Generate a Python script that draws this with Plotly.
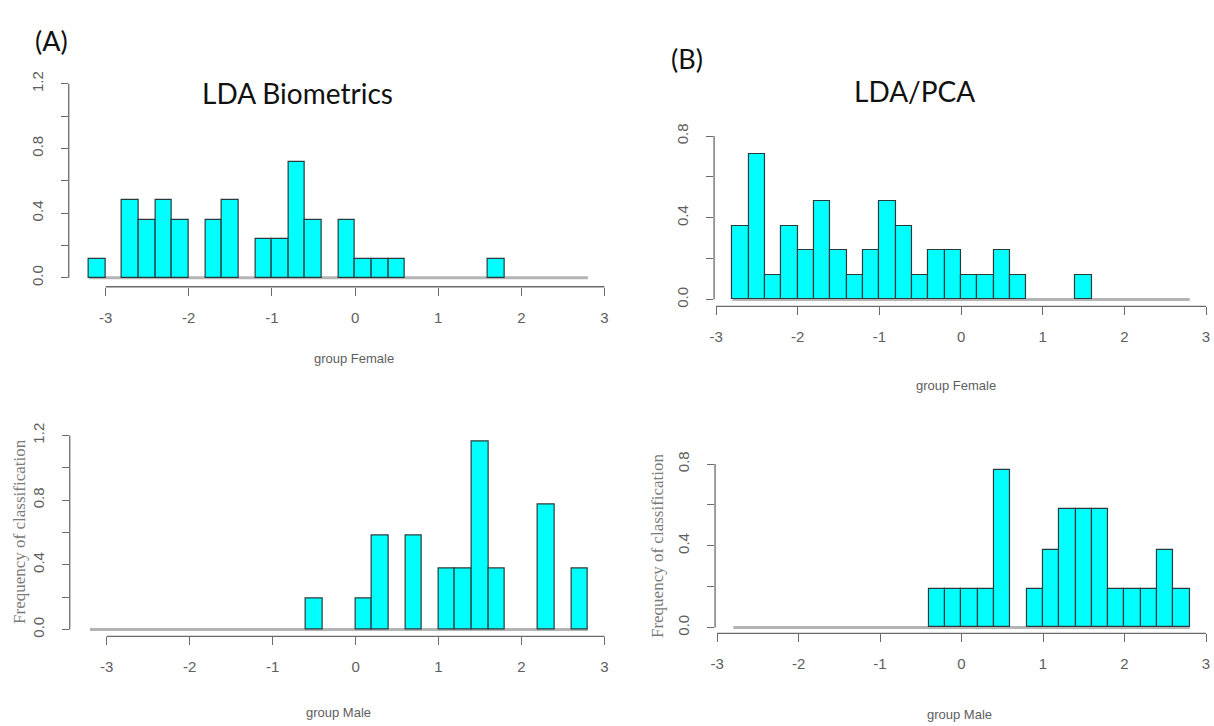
import plotly.graph_objects as go

W, H = 1214, 726

# ---------------- data (bin left edges, bin width 0.2, densities) ----------------
bin_width = 0.2

a_female_left = [-3.2, -2.8, -2.6, -2.4, -2.2, -1.8, -1.6, -1.2, -1.0, -0.8, -0.6, -0.2, 0.0, 0.2, 0.4, 1.6]
a_female_dens = [0.12, 0.48, 0.36, 0.48, 0.36, 0.36, 0.48, 0.24, 0.24, 0.72, 0.36, 0.36, 0.12, 0.12, 0.12, 0.12]

a_male_left = [-0.6, 0.0, 0.2, 0.6, 1.0, 1.2, 1.4, 1.6, 2.2, 2.6]
a_male_dens = [0.19, 0.19, 0.58, 0.58, 0.38, 0.38, 1.16, 0.38, 0.77, 0.38]

b_female_left = [-2.8, -2.6, -2.4, -2.2, -2.0, -1.8, -1.6, -1.4, -1.2, -1.0, -0.8, -0.6, -0.4, -0.2, 0.0, 0.2, 0.4, 0.6, 1.4]
b_female_dens = [0.36, 0.71, 0.12, 0.36, 0.24, 0.48, 0.24, 0.12, 0.24, 0.48, 0.36, 0.12, 0.24, 0.24, 0.12, 0.12, 0.24, 0.12, 0.12]

b_male_left = [-0.4, -0.2, 0.0, 0.2, 0.4, 0.8, 1.0, 1.2, 1.4, 1.6, 1.8, 2.0, 2.2, 2.4, 2.6]
b_male_dens = [0.19, 0.19, 0.19, 0.19, 0.77, 0.19, 0.38, 0.58, 0.58, 0.58, 0.19, 0.19, 0.19, 0.38, 0.19]

a_breaks = [-3.2, 2.8]
b_breaks = [-2.8, 2.8]

x_ticks = [-3, -2, -1, 0, 1, 2, 3]
a_y_ticks = [0.0, 0.2, 0.4, 0.6, 0.8, 1.0, 1.2]
a_y_labels = ["0.0", "", "0.4", "", "0.8", "", "1.2"]
b_y_ticks = [0.0, 0.2, 0.4, 0.6, 0.8]
b_y_labels = ["0.0", "", "0.4", "", "0.8"]

# ---------------- layout geometry (pixels) ----------------
panels = [
    dict(left=a_female_left, dens=a_female_dens, breaks=a_breaks, yt=a_y_ticks, yl=a_y_labels,
         xlab="group Female", xm3=101, xp3=602, y0=273, ytp=76, xline=282, yline=64, ylab=False,
         xlab_pos=(350, 355)),
    dict(left=a_male_left, dens=a_male_dens, breaks=a_breaks, yt=a_y_ticks, yl=a_y_labels,
         xlab="group Male", xm3=102, xp3=602, y0=630, ytp=433, xline=637, yline=65, ylab=True,
         xlab_pos=(335, 714), ylab_pos=(15, 530)),
    dict(left=b_female_left, dens=b_female_dens, breaks=b_breaks, yt=b_y_ticks, yl=b_y_labels,
         xlab="group Female", xm3=714, xp3=1206, y0=295, ytp=129, xline=302, yline=712, ylab=False,
         xlab_pos=(955, 382)),
    dict(left=b_male_left, dens=b_male_dens, breaks=b_breaks, yt=b_y_ticks, yl=b_y_labels,
         xlab="group Male", xm3=715, xp3=1206, y0=628, ytp=462, xline=634, yline=713, ylab=True,
         xlab_pos=(958, 716), ylab_pos=(655, 545)),
]

AXIS_COLOR = "#6a6a6a"
TEXT_COLOR = "#5e5e5e"
TICK_FONT = dict(family="Liberation Sans, Arial, sans-serif", size=15, color=TEXT_COLOR)

fig = go.Figure()
layout = dict(width=W, height=H, margin=dict(l=0, r=0, t=0, b=0),
              paper_bgcolor="white", plot_bgcolor="white", showlegend=False)
shapes = []
annotations = []

for i, p in enumerate(panels, start=1):
    xa = "x" if i == 1 else f"x{i}"
    ya = "y" if i == 1 else f"y{i}"
    xkey = "xaxis" if i == 1 else f"xaxis{i}"
    ykey = "yaxis" if i == 1 else f"yaxis{i}"

    kx = (p["xp3"] - p["xm3"]) / 6.0
    ytop = p["yt"][-1]
    ky = (p["y0"] - p["ytp"]) / ytop

    right_px = p["xp3"] + 6
    x_lo = -3 + (p["yline"] - p["xm3"]) / kx
    x_hi = 3 + (right_px - p["xp3"]) / kx
    y_lo = -(p["xline"] - p["y0"]) / ky
    top_px = p["ytp"] - 4
    y_hi = ytop + (p["ytp"] - top_px) / ky

    centers = [l + bin_width / 2 for l in p["left"]]
    fig.add_trace(go.Bar(
        x=centers, y=p["dens"], width=bin_width, xaxis=xa, yaxis=ya,
        marker=dict(color="#00ffff", line=dict(color="#2a3a3a", width=1.2)),
        hoverinfo="x+y",
    ))

    layout[xkey] = dict(
        domain=[p["yline"] / W, right_px / W], range=[x_lo, x_hi], anchor=ya,
        showgrid=False, zeroline=False, showline=False,
        ticks="outside", ticklen=8, tickwidth=1.2, tickcolor=AXIS_COLOR,
        tickvals=x_ticks, ticktext=[str(v) for v in x_ticks],
        tickfont=TICK_FONT, ticklabelstandoff=9, fixedrange=True,
    )
    layout[ykey] = dict(
        domain=[1 - p["xline"] / H, 1 - top_px / H], range=[y_lo, y_hi], anchor=xa,
        showgrid=False, zeroline=False, showline=False,
        ticks="outside", ticklen=7, tickwidth=1.2, tickcolor=AXIS_COLOR,
        tickvals=p["yt"], ticktext=p["yl"], tickangle=-90,
        tickfont=TICK_FONT, ticklabelstandoff=12, fixedrange=True,
    )

    # R-style axis lines spanning only the tick range
    shapes.append(dict(type="line", xref=xa, yref=f"{ya} domain",
                       x0=x_ticks[0], x1=x_ticks[-1], y0=0, y1=0,
                       line=dict(color=AXIS_COLOR, width=1.3)))
    shapes.append(dict(type="line", xref=f"{xa} domain", yref=ya,
                       x0=0, x1=0, y0=p["yt"][0], y1=p["yt"][-1],
                       line=dict(color=AXIS_COLOR, width=1.3)))
    # grey baseline across the break range
    shapes.append(dict(type="line", xref=xa, yref=ya, layer="below",
                       x0=p["breaks"][0], x1=p["breaks"][1], y0=0, y1=0,
                       line=dict(color="#b4b4b4", width=3)))

    annotations.append(dict(text=p["xlab"], xref="paper", yref="paper",
                            x=p["xlab_pos"][0] / W, y=1 - p["xlab_pos"][1] / H,
                            showarrow=False, xanchor="center", yanchor="middle",
                            font=dict(family="Liberation Sans, Arial, sans-serif",
                                      size=13, color=TEXT_COLOR)))
    if p["ylab"]:
        annotations.append(dict(text="Frequency of classification", xref="paper", yref="paper",
                                x=p["ylab_pos"][0] / W, y=1 - p["ylab_pos"][1] / H,
                                textangle=-90, showarrow=False, xanchor="center", yanchor="middle",
                                font=dict(family="Liberation Serif, Times New Roman, serif",
                                          size=17, color="#7a7a7a")))

# titles and panel letters
for txt, (px, py), size in [("(A)", (47, 32), 27), ("(B)", (685, 50), 27),
                            ("LDA Biometrics", (294, 85), 28), ("LDA/PCA", (913, 83), 28)]:
    annotations.append(dict(text=txt, xref="paper", yref="paper", x=px / W, y=1 - py / H,
                            showarrow=False, xanchor="center", yanchor="middle",
                            font=dict(family="Lato, Open Sans, sans-serif", size=size, color="#111111")))

layout["shapes"] = shapes
layout["annotations"] = annotations
layout["bargap"] = 0
fig.update_layout(**layout)

fig.write_html("out.html")
